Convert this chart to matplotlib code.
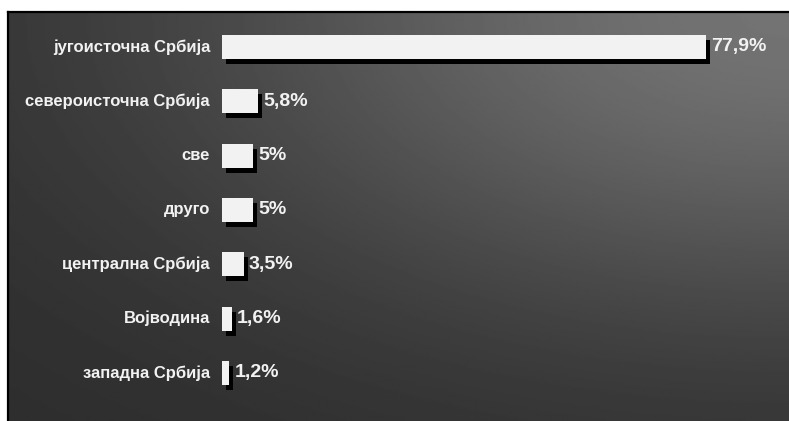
import numpy as np
import matplotlib
matplotlib.use("Agg")
import matplotlib.pyplot as plt
import matplotlib.patheffects as pe

# ==========================================
# Data
# ==========================================

regions = [
    "југоисточна Србија",
    "североисточна Србија",
    "све",
    "друго",
    "централна Србија",
    "Војводина",
    "западна Србија",
]
shares = [77.9, 5.8, 5.0, 5.0, 3.5, 1.6, 1.2]
share_labels = ["77,9%", "5,8%", "5%", "5%", "3,5%", "1,6%", "1,2%"]

plt.rcParams["font.family"] = ["Liberation Sans", "DejaVu Sans"]

# ==========================================
# Figure and axes
# ==========================================

fig = plt.figure(figsize=(7.89, 4.21), dpi=100, facecolor="white")
ax = fig.add_axes([8 / 789, 0, 781 / 789, 409 / 421])

ax.set_xlim(-34.4, 91.2)
ax.set_ylim(6.884, -0.644)

# background: radial grey gradient, brightest in the top right corner
gx, gy = np.meshgrid(np.linspace(0, 1, 400), np.linspace(0, 1, 220))
r2 = ((1 - gx) * 781 / 800) ** 2 + (gy * 409 / 410) ** 2
shade = (44 + 71 * np.exp(-1.8 * r2)) / 255
ax.imshow(shade, cmap="gray", vmin=0, vmax=1, aspect="auto",
          extent=(-34.4, 91.2, 6.884, -0.644), zorder=0, interpolation="bilinear")

# ==========================================
# Bars with drop shadow
# ==========================================

y = np.arange(len(regions))
bars = ax.barh(y, shares, height=0.44, color="#f2f2f2", zorder=2)
for b in bars:
    b.set_path_effects([
        pe.SimplePatchShadow(offset=(2.9, -3.6), shadow_rgbFace="black", alpha=1),
        pe.Normal(),
    ])

for yi, v, lab in zip(y, shares, share_labels):
    ax.text(v + 0.85, yi, lab, color="#f2f2f2", fontsize=14, fontweight="bold",
            ha="left", va="center", zorder=3)

for yi, name in zip(y, regions):
    ax.text(-1.9, yi, name, color="#f2f2f2", fontsize=12, fontweight="bold",
            ha="right", va="center", zorder=3)

ax.set_xticks([])
ax.set_yticks([])
for side in ["right", "bottom"]:
    ax.spines[side].set_visible(False)
for side in ["left", "top"]:
    ax.spines[side].set_linewidth(1.6)
    ax.spines[side].set_color("black")

fig.savefig("out.png", dpi=100, facecolor="white")
